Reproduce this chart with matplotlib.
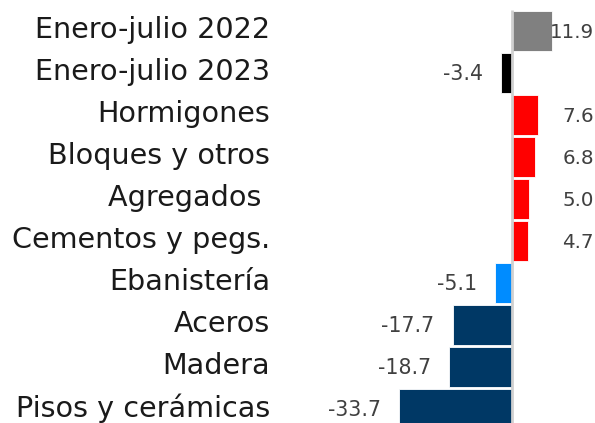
import matplotlib
matplotlib.use("Agg")
import matplotlib.pyplot as plt

categories = ["Enero-julio 2022", "Enero-julio 2023", "Hormigones", "Bloques y otros",
              "Agregados ", "Cementos y pegs.", "Ebanistería", "Aceros", "Madera",
              "Pisos y cerámicas"]
values = [11.9, -3.4, 7.6, 6.8, 5.0, 4.7, -5.1, -17.7, -18.7, -33.7]
colors = ["#808080", "#000000", "#ff0000", "#ff0000", "#ff0000", "#ff0000",
          "#008cff", "#003865", "#003865", "#003865"]
value_labels = ["11.9", "-3.4", "7.6", "6.8", "5.0", "4.7", "-5.1", "-17.7", "-18.7", "-33.7"]

plt.rcParams['font.family'] = ['DejaVu Sans']

W, H = 595, 423
fig = plt.figure(figsize=(W / 100, H / 100), dpi=100)
ax_left_px = 280
ax = fig.add_axes([ax_left_px / W, 0, (W - ax_left_px) / W, 1])
scale = 3.36
row0, step = 31.0, 42.0
ax.set_xlim((ax_left_px - 512) / scale, (W - 512) / scale)
ax.set_ylim((H - row0) / step, -row0 / step)

y = list(range(len(categories)))
ax.barh(y, values, height=0.95, color=colors, edgecolor="white", linewidth=0.6, zorder=2)
ax.plot([0, 0], [-0.5, 9.5], color="#d0d0d0", lw=2, zorder=3, solid_capstyle="butt")

for yi, v, lab in zip(y, values, value_labels):
    if v >= 0:
        ax.annotate(lab, xy=(1, yi), xycoords=("axes fraction", "data"),
                    xytext=(-1, -1), textcoords="offset pixels",
                    ha="right", va="center", fontsize=14.3, color="#404040")
    else:
        ax.annotate(lab, xy=(v, yi), xytext=(-18, -1), textcoords="offset pixels",
                    ha="right", va="center", fontsize=14.8, color="#404040")

for yi, c in zip(y, categories):
    fig.text(270 / W, 1 - (row0 - 1 + step * yi) / H, c, ha="right", va="center",
             fontsize=20.6, color="#1a1a1a")

ax.axis("off")
fig.savefig("out.png", dpi=100)
